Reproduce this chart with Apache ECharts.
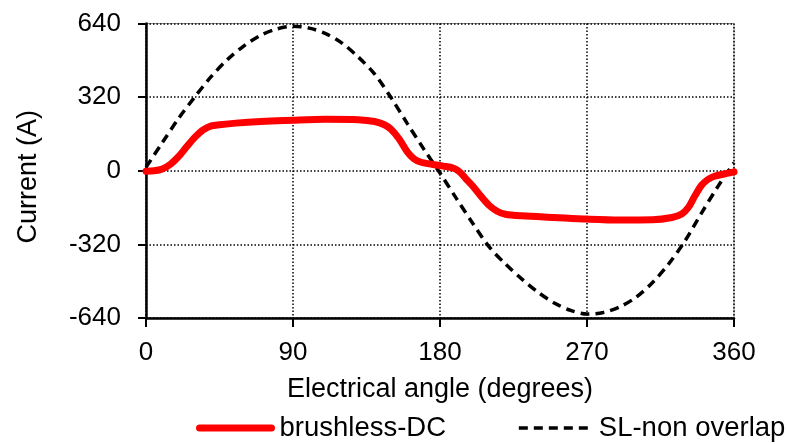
<!DOCTYPE html>
<html>
<head>
<meta charset="utf-8">
<script src="https://cdn.jsdelivr.net/npm/echarts@6/dist/echarts.min.js"></script>
<style>
  html, body { margin: 0; padding: 0; background: #fff; }
  #chart { width: 787px; height: 444px; }
</style>
</head>
<body>
<div id="chart"></div>
<script>
// Phase current over one electrical cycle
const xTicks = [0, 90, 180, 270, 360];
const yTicks = [-640, -320, 0, 320, 640];

// brushless-DC current: [electrical angle (deg), current (A)]
const bldcAngle = [0, 5, 10, 15, 20, 25, 30, 35, 40, 45, 55, 70, 90, 110, 130, 140, 146, 150, 155, 160, 164, 168, 175, 182, 188, 192, 196, 200, 205, 210, 215, 220, 230, 250, 270, 290, 310, 322, 328, 332, 336, 340, 344, 348, 354, 360];
const bldcCurrent = [-2, 0, 8, 28, 62, 105, 146, 178, 195, 200, 207, 214, 220, 224, 222, 214, 200, 180, 138, 82, 52, 38, 28, 20, 12, -5, -36, -66, -110, -150, -176, -189, -196, -203, -210, -214, -213, -203, -188, -160, -110, -64, -38, -24, -14, -5];

// SL-non overlap current
const slAngle = [0, 10, 20, 30, 40, 50, 60, 70, 80, 90, 100, 110, 120, 130, 140, 150, 160, 170, 180, 190, 200, 210, 220, 230, 240, 250, 260, 270, 280, 290, 300, 310, 320, 330, 340, 350, 360];
const slCurrent = [15, 122, 228, 322, 410, 484, 543, 588, 616, 628, 620, 596, 555, 494, 420, 318, 205, 95, -10, -120, -228, -330, -405, -470, -528, -575, -607, -623, -616, -592, -550, -487, -405, -305, -185, -70, 35];

const pairs = (xs, ys) => xs.map((x, i) => [x, ys[i]]);

const FONT = '"Liberation Sans", Arial, Helvetica, sans-serif';
const chart = echarts.init(document.getElementById('chart'), null, { renderer: 'canvas' });

chart.setOption({
  animation: false,
  backgroundColor: '#fff',
  textStyle: { fontFamily: FONT, color: '#000' },
  grid: {
    left: 146, right: 53, top: 23.5, bottom: 126,
    show: true, borderColor: '#8c8c8c', borderWidth: 1
  },
  xAxis: {
    type: 'value', min: xTicks[0], max: xTicks[xTicks.length - 1], interval: 90,
    name: 'Electrical angle (degrees)', nameLocation: 'middle', nameGap: 58,
    nameTextStyle: { fontSize: 27, color: '#000', fontFamily: FONT },
    axisLine: { show: true, onZero: false, lineStyle: { color: '#000', width: 2.5 } },
    axisTick: { show: true, length: 9, lineStyle: { color: '#000', width: 2 } },
    axisLabel: { fontSize: 26, color: '#000', margin: 22, fontFamily: FONT },
    splitLine: { show: true, lineStyle: { color: '#000', width: 1.5, type: [1.5, 2] } }
  },
  yAxis: {
    type: 'value', min: yTicks[0], max: yTicks[yTicks.length - 1], interval: 320,
    name: 'Current (A)', nameLocation: 'middle', nameGap: 104,
    nameTextStyle: { fontSize: 27, color: '#000', fontFamily: FONT, padding: [0, 12, 0, 0] },
    axisLine: { show: true, onZero: false, lineStyle: { color: '#000', width: 2.5 } },
    axisTick: { show: true, length: 8, lineStyle: { color: '#000', width: 2 } },
    axisLabel: { fontSize: 26, color: '#000', margin: 25, fontFamily: FONT },
    splitLine: { show: true, lineStyle: { color: '#000', width: 1.5, type: [1.5, 2] } }
  },
  legend: {
    left: 196, top: 414, padding: 0,
    itemWidth: 72, itemHeight: 28, itemGap: 71,
    textStyle: { fontSize: 27.5, color: '#000', fontFamily: FONT, padding: [0, 0, 0, 3] },
    lineStyle: { width: 'inherit' },
    itemStyle: { opacity: 0, borderWidth: 0 },
    data: ['brushless-DC', 'SL-non overlap']
  },
  series: [
    {
      name: 'brushless-DC', type: 'line', data: pairs(bldcAngle, bldcCurrent),
      showSymbol: false, symbol: 'none', smooth: 0.3, z: 3,
      lineStyle: { color: '#ff0000', width: 7, cap: 'round', join: 'round' },
      itemStyle: { color: '#ff0000' }
    },
    {
      name: 'SL-non overlap', type: 'line', data: pairs(slAngle, slCurrent),
      showSymbol: false, symbol: 'none', smooth: 0.3, z: 2,
      lineStyle: { color: '#000', width: 3.5, type: [9, 6] },
      itemStyle: { color: '#000' }
    }
  ]
});
</script>
</body>
</html>
